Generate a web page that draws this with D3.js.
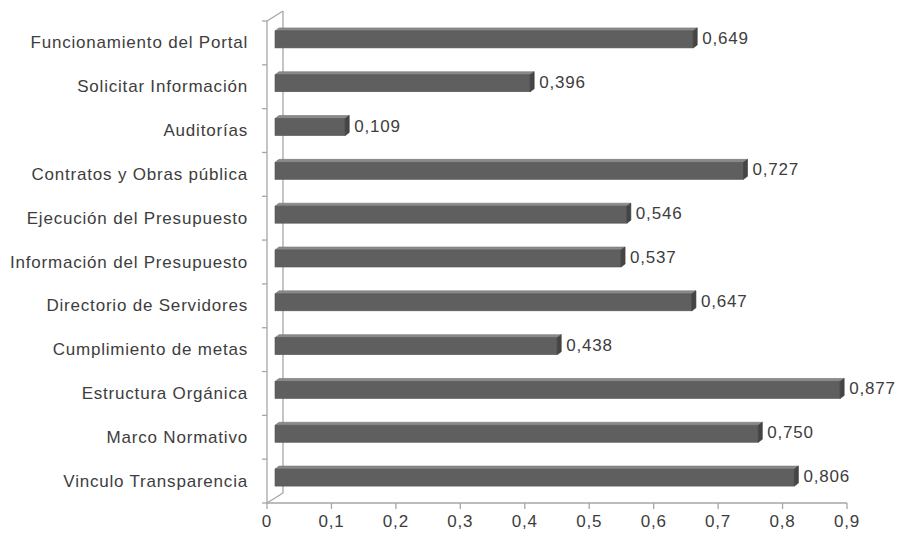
<!DOCTYPE html>
<html>
<head>
<meta charset="utf-8">
<script src="https://cdn.jsdelivr.net/npm/d3@7"></script>
<style>
  html, body { margin: 0; padding: 0; background: #fff; }
  svg { display: block; }
  text { font-family: "Liberation Sans", Arial, sans-serif; fill: #3d3d3d; letter-spacing: 0.8px; }
</style>
</head>
<body>
<svg id="chart" width="900" height="543"></svg>
<script>
// Indicator names, top to bottom
const categories = [
  "Funcionamiento del Portal",
  "Solicitar Información",
  "Auditorías",
  "Contratos y Obras pública",
  "Ejecución del Presupuesto",
  "Información del Presupuesto",
  "Directorio de Servidores",
  "Cumplimiento de metas",
  "Estructura Orgánica",
  "Marco Normativo",
  "Vinculo Transparencia"
];
// Score per indicator
const values = [0.649, 0.396, 0.109, 0.727, 0.546, 0.537, 0.647, 0.438, 0.877, 0.750, 0.806];
// Value axis ticks
const xTicks = [0, 0.1, 0.2, 0.3, 0.4, 0.5, 0.6, 0.7, 0.8, 0.9];

const svg = d3.select("#chart");
const fmt = v => d3.format(".3f")(v).replace(".", ",");
const fmtTick = v => v === 0 ? "0" : d3.format(".1f")(v).replace(".", ",");

// Front plane of the pseudo-3D plot area
const x0 = 267, x1 = 847, yTop = 21, yBot = 503;
// Depth offset of the back wall
const depthX = 16, depthY = -10;

const x = d3.scaleLinear().domain([0, 0.9]).range([x0, x1]);
const y = d3.scaleBand().domain(categories).range([yTop, yBot]);

const axisColor = "#a6a6a6";

// Back wall edge and floor/side edges
const g = svg.append("g");
g.append("line").attr("x1", x0 + depthX).attr("x2", x0 + depthX)
  .attr("y1", yTop + depthY).attr("y2", yBot + depthY)
  .attr("stroke", axisColor).attr("stroke-width", 1.3);
g.append("line").attr("x1", x0).attr("y1", yTop)
  .attr("x2", x0 + depthX).attr("y2", yTop + depthY)
  .attr("stroke", axisColor).attr("stroke-width", 1.3);
g.append("line").attr("x1", x0).attr("y1", yBot)
  .attr("x2", x0 + depthX).attr("y2", yBot + depthY)
  .attr("stroke", axisColor).attr("stroke-width", 1.3);

// Category axis (front vertical edge) with ticks between bands
g.append("line").attr("x1", x0).attr("x2", x0).attr("y1", yTop).attr("y2", yBot)
  .attr("stroke", axisColor).attr("stroke-width", 1.3);
const bounds = categories.map(c => y(c)).concat([yBot]);
g.selectAll(".ctick").data(bounds).join("line")
  .attr("x1", x0 - 5).attr("x2", x0)
  .attr("y1", d => d).attr("y2", d => d)
  .attr("stroke", axisColor).attr("stroke-width", 1.3);

// Value axis along the bottom
g.append("line").attr("x1", x0).attr("x2", x1).attr("y1", yBot).attr("y2", yBot)
  .attr("stroke", axisColor).attr("stroke-width", 1.3);
g.selectAll(".xtick").data(xTicks).join("line")
  .attr("x1", d => x(d)).attr("x2", d => x(d))
  .attr("y1", yBot).attr("y2", yBot + 6)
  .attr("stroke", axisColor).attr("stroke-width", 1.3);
g.selectAll(".xlabel").data(xTicks).join("text")
  .attr("x", d => x(d)).attr("y", yBot + 24)
  .attr("text-anchor", "middle")
  .style("font-size", "17px")
  .text(fmtTick);

// Category labels
g.selectAll(".clabel").data(categories).join("text")
  .attr("x", 248).attr("y", d => y(d) + y.bandwidth() / 2)
  .attr("text-anchor", "end").attr("dominant-baseline", "central")
  .style("font-size", "17px")
  .text(d => d);

// Bars drawn at mid depth: front face, top face and end cap
const bx = depthX / 2, by = depthY / 2;   // offset of bar front from the front plane
const cap = 4, capY = 3;                   // bar depth projection
const faceH = 17;
const k = v => x(v) - x0;                  // length in pixels

const bars = g.selectAll(".bar").data(categories.map((c, i) => ({c, v: values[i]}))).join("g");
bars.each(function(d) {
  const sel = d3.select(this);
  const cy = y(d.c) + y.bandwidth() / 2 + by + 1.5;
  const left = x0 + bx, right = left + k(d.v);
  const top = cy - faceH / 2, bot = cy + faceH / 2;
  // top face
  sel.append("path")
    .attr("d", `M${left},${top} L${left + cap},${top - capY} L${right + cap},${top - capY} L${right},${top} Z`)
    .attr("fill", "#8a8a8a").attr("stroke", "#767676").attr("stroke-width", 0.6);
  // front face
  sel.append("rect")
    .attr("x", left).attr("y", top).attr("width", right - left).attr("height", faceH)
    .attr("fill", "#5f5f5f").attr("stroke", "#555").attr("stroke-width", 0.6);
  // end cap
  sel.append("path")
    .attr("d", `M${right},${top} L${right + cap},${top - capY} L${right + cap},${bot - capY} L${right},${bot} Z`)
    .attr("fill", "#454545").attr("stroke", "#3c3c3c").attr("stroke-width", 0.6);
  // value label
  sel.append("text")
    .attr("x", right + cap + 5).attr("y", cy - 1)
    .attr("dominant-baseline", "central")
    .style("font-size", "17px")
    .text(fmt(d.v));
});
</script>
</body>
</html>
